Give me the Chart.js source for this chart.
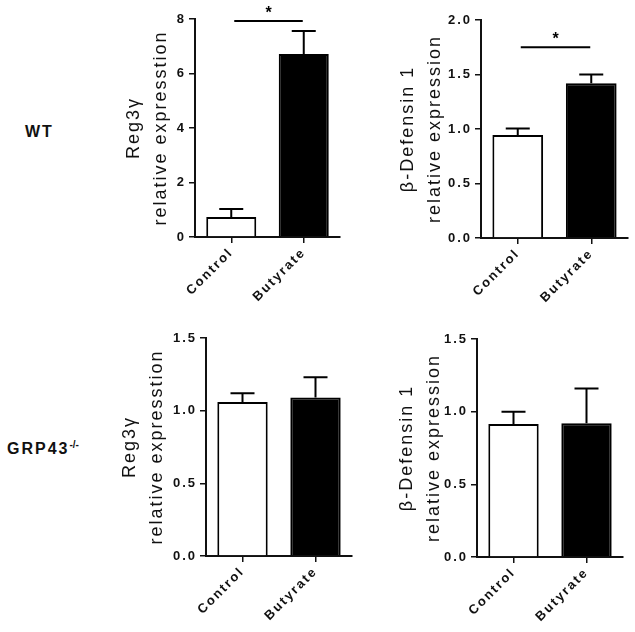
<!DOCTYPE html>
<html>
<head>
<meta charset="utf-8">
<script src="https://cdn.jsdelivr.net/npm/chart.js@4"></script>
<style>
body { margin: 0; background: #fff; width: 635px; height: 632px; position: relative; overflow: hidden; font-family: 'Liberation Sans', Arial, sans-serif; }
canvas { position: absolute; }
.row { position: absolute; font-weight: bold; font-size: 16px; line-height: 16px; color: #111; letter-spacing: 2px; }
.row sup { font-size: 10px; letter-spacing: 0; vertical-align: 6px; }
</style>
</head>
<body>
<div class="row" style="left:25px;top:124px">WT</div>
<div class="row" style="left:7px;top:437px">GRP43<sup>-/-</sup></div>
<canvas id="c1" width="224" height="310" style="left:121px;top:0px"></canvas>
<canvas id="c2" width="240" height="310" style="left:395px;top:0px"></canvas>
<canvas id="c3" width="240" height="322" style="left:117px;top:310px"></canvas>
<canvas id="c4" width="236" height="322" style="left:394px;top:310px"></canvas>
<script>
const categories = ['Control', 'Butyrate'];

// WT
const wtReg3gMean = [0.73, 6.72];
const wtReg3gSem = [0.30, 0.84];
const wtDefMean = [0.945, 1.42];
const wtDefSem = [0.06, 0.08];
// GRP43-/-
const koReg3gMean = [1.06, 1.09];
const koReg3gSem = [0.06, 0.14];
const koDefMean = [0.915, 0.92];
const koDefSem = [0.085, 0.24];

// significance bars (height of the bar, in y units)
const wtReg3gSig = 7.93;
const wtDefSig = 1.75;

const reg3gTitle = ['Reg3\u03B3', 'relative expresstion'];
const defTitle = ['\u03B2-Defensin 1', 'relative expression'];

const fam = "'Liberation Sans', Arial, sans-serif";

const spacing = {
    id: 'spacing',
    beforeDraw(chart) { chart.ctx.letterSpacing = '2px'; }
};

const errorBars = {
    id: 'errorBars',
    afterDatasetsDraw(chart, args, opts) {
        const ctx = chart.ctx;
        const meta = chart.getDatasetMeta(0);
        const y = chart.scales.y;
        ctx.save();
        ctx.strokeStyle = '#000';
        ctx.lineWidth = 2;
        meta.data.forEach((bar, i) => {
            const top = y.getPixelForValue(opts.mean[i] + opts.sem[i]);
            ctx.beginPath();
            ctx.moveTo(bar.x, bar.y);
            ctx.lineTo(bar.x, top);
            ctx.moveTo(bar.x - 12, top);
            ctx.lineTo(bar.x + 12, top);
            ctx.stroke();
        });
        if (opts.sig != null) {
            const sy = y.getPixelForValue(opts.sig);
            const x0 = meta.data[0].x + 3;
            const x1 = meta.data[1].x - 1;
            ctx.beginPath();
            ctx.moveTo(x0, sy);
            ctx.lineTo(x1, sy);
            ctx.stroke();
            ctx.letterSpacing = '0px';
            ctx.fillStyle = '#000';
            ctx.font = 'bold 16px ' + fam;
            ctx.textAlign = 'center';
            ctx.textBaseline = 'alphabetic';
            ctx.fillText('*', (x0 + x1) / 2, sy - 3);
        }
        ctx.restore();
    }
};

function makePanel(id, mean, sem, sig, yMax, step, decimals, title, g) {
    return new Chart(document.getElementById(id), {
        type: 'bar',
        data: {
            labels: categories,
            datasets: [{
                data: mean,
                backgroundColor: ['#ffffff', '#000000'],
                borderColor: '#000',
                borderWidth: 2,
                barPercentage: 0.69,
                categoryPercentage: 1
            }]
        },
        options: {
            responsive: false,
            animation: false,
            layout: { padding: { top: g.top, right: g.right, left: 0, bottom: 0 } },
            plugins: {
                legend: { display: false },
                tooltip: { enabled: false },
                errorBars: { mean: mean, sem: sem, sig: sig }
            },
            scales: {
                x: {
                    offset: true,
                    afterFit: s => { s.height = g.xh; },
                    grid: { offset: false, drawOnChartArea: false, tickLength: 6, color: '#111', lineWidth: 1.5 },
                    border: { color: '#111', width: 2 },
                    ticks: {
                        autoSkip: false, minRotation: 45, maxRotation: 45, padding: 2,
                        color: '#111', font: { family: fam, size: 13, weight: 'bold' }
                    }
                },
                y: {
                    min: 0,
                    max: yMax,
                    afterFit: s => { s.width = g.yw; },
                    grid: { drawOnChartArea: false, tickLength: 6, color: '#111', lineWidth: 1.5 },
                    border: { color: '#111', width: 2 },
                    ticks: {
                        stepSize: step, padding: 3, color: '#111',
                        font: { family: fam, size: 13, weight: 'bold' },
                        callback: v => Number(v).toFixed(decimals)
                    },
                    title: {
                        display: true, text: title, padding: 0, color: '#111',
                        font: { family: fam, size: 18, lineHeight: 1.5 }
                    }
                }
            }
        },
        plugins: [spacing, errorBars]
    });
}

makePanel('c1', wtReg3gMean, wtReg3gSem, wtReg3gSig, 8, 2, 0, reg3gTitle, { top: 19, right: 5, xh: 73, yw: 74 });
makePanel('c2', wtDefMean, wtDefSem, wtDefSig, 2, 0.5, 1, defTitle, { top: 20, right: 7, xh: 72, yw: 86 });
makePanel('c3', koReg3gMean, koReg3gSem, null, 1.5, 0.5, 1, reg3gTitle, { top: 28, right: 5, xh: 76, yw: 89 });
makePanel('c4', koDefMean, koDefSem, null, 1.5, 0.5, 1, defTitle, { top: 29, right: 7, xh: 75, yw: 83 });
</script>
</body>
</html>
